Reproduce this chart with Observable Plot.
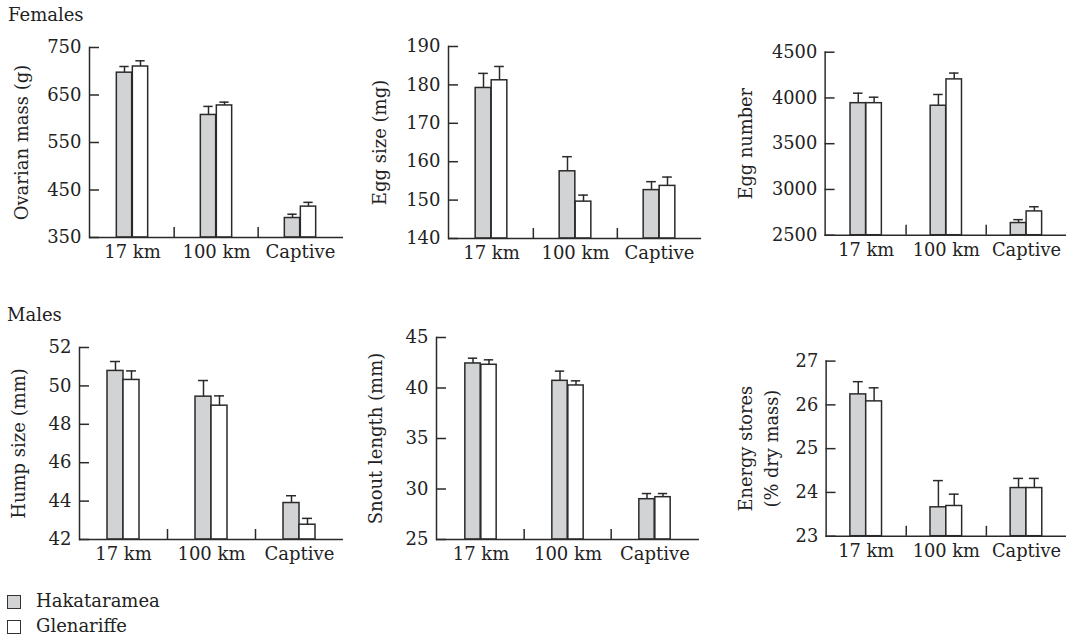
<!DOCTYPE html>
<html><head><meta charset="utf-8">
<script src="https://cdn.jsdelivr.net/npm/d3@7"></script>
<script src="https://cdn.jsdelivr.net/npm/@observablehq/plot@0.6"></script>
<style>
body{margin:0;background:#fff;overflow:hidden}
#root{position:relative;width:1068px;height:641px;overflow:hidden;font-family:"DejaVu Serif";color:#222;font-size:18px}
.t{position:absolute;line-height:20px;white-space:nowrap}
.panel{position:absolute}
.panel svg{overflow:visible}
.sw{position:absolute;width:12px;height:12px;border:1.4px solid #333}
</style></head><body><div id="root"></div>
<script>
// ---------- data ----------
const sites = ["17 km", "100 km", "Captive"];
const populations = ["Hakataramea", "Glenariffe"];
const groupTitles = ["Females", "Males"];

const ovarianMassHak = [697, 608, 391], ovarianMassHakErr = [13, 18, 8];
const ovarianMassGle = [710, 628, 415], ovarianMassGleErr = [12, 7, 9];

const eggSizeHak = [179.2, 157.5, 152.6], eggSizeHakErr = [3.8, 3.8, 2.2];
const eggSizeGle = [181.2, 149.6, 153.7], eggSizeGleErr = [3.6, 1.7, 2.3];

const eggNumberHak = [3943, 3915, 2633], eggNumberHakErr = [109, 123, 37];
const eggNumberGle = [3943, 4203, 2760], eggNumberGleErr = [65, 69, 51];

const humpHak = [50.78, 49.44, 43.9], humpHakErr = [0.49, 0.84, 0.38];
const humpGle = [50.31, 48.97, 42.77], humpGleErr = [0.47, 0.51, 0.33];

const snoutHak = [42.43, 40.71, 28.99], snoutHakErr = [0.52, 0.96, 0.56];
const snoutGle = [42.3, 40.25, 29.19], snoutGleErr = [0.49, 0.46, 0.36];

const energyHak = [26.24, 23.66, 24.1], energyHakErr = [0.29, 0.61, 0.22];
const energyGle = [26.08, 23.69, 24.1], energyGleErr = [0.31, 0.27, 0.22];

const ovarianTicks = [350, 450, 550, 650, 750];
const eggSizeTicks = [140, 150, 160, 170, 180, 190];
const eggNumberTicks = [2500, 3000, 3500, 4000, 4500];
const humpTicks = [42, 44, 46, 48, 50, 52];
const snoutTicks = [25, 30, 35, 40, 45];
const energyTicks = [23, 24, 25, 26, 27];

const panelLabels = ["Ovarian mass (g)", "Egg size (mg)", "Egg number",
  "Hump size (mm)", "Snout length (mm)", "Energy stores\n(% dry mass)"];

// ---------- layout ----------
const INK = "#2a2a2a", GRAY = "#d2d3d5";
const layout = [
  {frame: [89, 343, 47, 237], sl: 0, st: 25, labelX: 19},
  {frame: [448, 701, 46, 238], sl: 350, st: 25, labelX: 377},
  {frame: [826, 1070, 52, 237], sl: 700, st: 25, labelX: 743},
  {frame: [79, 343, 347, 539], sl: 0, st: 325, labelX: 16},
  {frame: [436, 699, 337, 539], sl: 350, st: 325, labelX: 373},
  {frame: [827, 1070, 361, 538], sl: 700, st: 325, labelX: 756.5}
];
const panels = [
  {h: ovarianMassHak, he: ovarianMassHakErr, g: ovarianMassGle, ge: ovarianMassGleErr, ticks: ovarianTicks},
  {h: eggSizeHak, he: eggSizeHakErr, g: eggSizeGle, ge: eggSizeGleErr, ticks: eggSizeTicks},
  {h: eggNumberHak, he: eggNumberHakErr, g: eggNumberGle, ge: eggNumberGleErr, ticks: eggNumberTicks},
  {h: humpHak, he: humpHakErr, g: humpGle, ge: humpGleErr, ticks: humpTicks},
  {h: snoutHak, he: snoutHakErr, g: snoutGle, ge: snoutGleErr, ticks: snoutTicks},
  {h: energyHak, he: energyHakErr, g: energyGle, ge: energyGleErr, ticks: energyTicks}
];

const root = document.getElementById("root");

function makePanel(p, L, label) {
  const [x0, x1, y0, y1] = L.frame;
  const mL = x0 - L.sl, mT = y0 - L.st, mR = 2, mB = 40;
  const fw = x1 - x0, fh = y1 - y0;
  const width = mL + fw + mR, height = mT + fh + mB;
  const bw = fw / sites.length, barW = 16, half = 8, cap = 5;
  const ymin = p.ticks[0], ymax = p.ticks[p.ticks.length - 1];
  const hak = sites.map((s, i) => ({site: s, v: p.h[i], top: p.h[i] + p.he[i]}));
  const gle = sites.map((s, i) => ({site: s, v: p.g[i], top: p.g[i] + p.ge[i]}));
  const line = {stroke: INK, strokeWidth: 1.5};
  const chart = Plot.plot({
    width, height, marginLeft: mL, marginTop: mT, marginRight: mR, marginBottom: mB,
    style: {fontFamily: '"DejaVu Serif"', fontSize: "18px", color: "#222", background: "transparent", overflow: "visible"},
    x: {type: "band", domain: sites, padding: 0, label: null},
    y: {domain: [ymin, ymax], label: null},
    marks: [
      Plot.barY(hak, {x: "site", y1: ymin, y2: "v", fill: GRAY, ...line, insetLeft: bw / 2 - barW, insetRight: bw / 2}),
      Plot.barY(gle, {x: "site", y1: ymin, y2: "v", fill: "#fff", ...line, insetLeft: bw / 2, insetRight: bw / 2 - barW}),
      Plot.ruleX(hak, {x: "site", y1: "v", y2: "top", dx: -half, ...line}),
      Plot.ruleX(gle, {x: "site", y1: "v", y2: "top", dx: half, ...line}),
      Plot.tickY(hak, {x: "site", y: "top", insetLeft: bw / 2 - half - cap, insetRight: bw / 2 + half - cap, ...line}),
      Plot.tickY(gle, {x: "site", y: "top", insetLeft: bw / 2 + half - cap, insetRight: bw / 2 - half - cap, ...line}),
      Plot.ruleX(sites.slice(1), {x: d => d, dx: -bw / 2, insetTop: fh - 10, ...line}),
      Plot.ruleY([ymin], line),
      Plot.frame({anchor: "left", ...line}),
      Plot.axisY({ticks: p.ticks, tickFormat: d => String(d), tickSize: -10, tickPadding: 18, label: null, strokeWidth: 1.5, stroke: INK}),
      Plot.axisX({tickSize: 0, tickPadding: 8, label: null}),
      Plot.text([label], {text: d => d, frameAnchor: "left", textAnchor: "middle", lineAnchor: "middle", rotate: -90, dx: L.labelX - x0, lineHeight: 1.5, fill: "#222", fontSize: 18})
    ]
  });
  const div = document.createElement("div");
  div.className = "panel";
  div.style.left = L.sl + "px";
  div.style.top = L.st + "px";
  div.appendChild(chart);
  root.appendChild(div);
}

panels.forEach((p, i) => makePanel(p, layout[i], panelLabels[i]));

function addText(txt, left, top) {
  const d = document.createElement("div");
  d.className = "t"; d.textContent = txt;
  d.style.left = left + "px"; d.style.top = top + "px";
  root.appendChild(d);
}
addText(groupTitles[0], 8, 5);
addText(groupTitles[1], 7, 305);

// legend
const swatchFill = [GRAY, "#fff"];
populations.forEach((name, i) => {
  const sw = document.createElement("div");
  sw.className = "sw";
  sw.style.left = "7px"; sw.style.top = (595 + i * 25) + "px";
  sw.style.background = swatchFill[i];
  root.appendChild(sw);
  addText(name, 36, 591 + i * 25);
});
</script></body></html>
